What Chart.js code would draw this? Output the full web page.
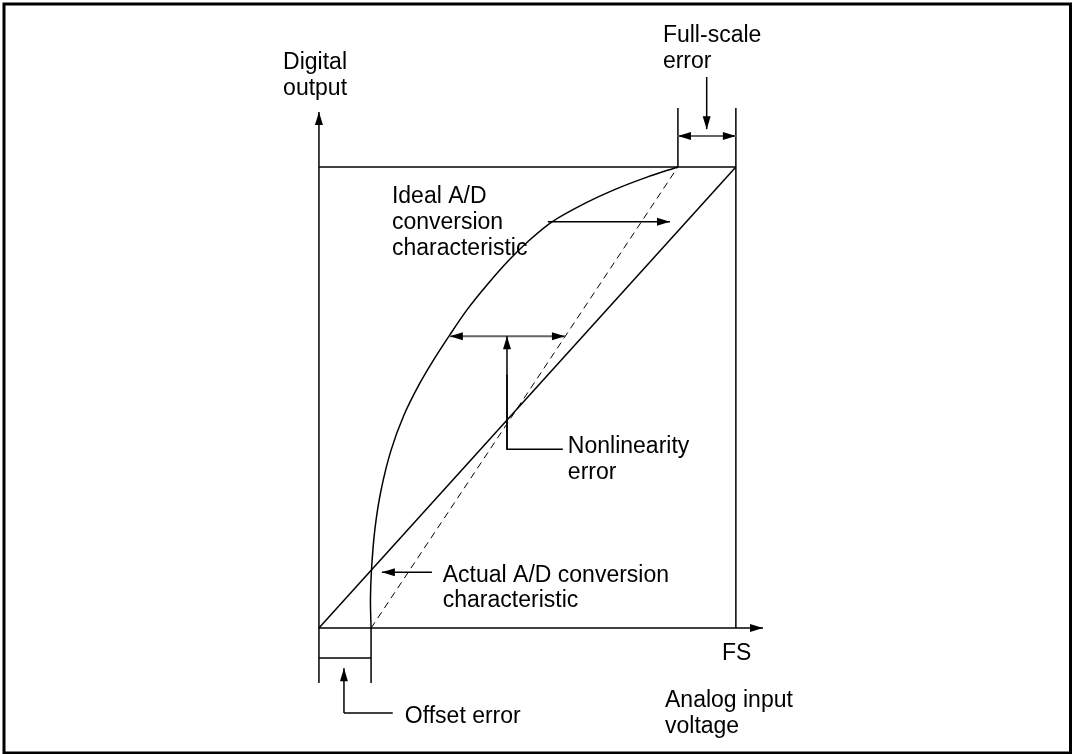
<!DOCTYPE html>
<html>
<head>
<meta charset="utf-8">
<title>A/D conversion errors</title>
<script src="https://cdn.jsdelivr.net/npm/chart.js@4/dist/chart.umd.min.js"></script>
<style>
  html, body { margin: 0; padding: 0; background: #fff; }
  #wrap { width: 1074px; height: 754px; }
</style>
</head>
<body>
<div id="wrap"><canvas id="canvas" width="1074" height="754"></canvas></div>
<script>
// values in % of full scale (x: analog input, y: digital output)
const offsetError = 12.5;
const fullScaleEnd = 86.1;
const nonlinearityLevel = 63.3;

const idealLine = [{x: 0, y: 0}, {x: 100, y: 100}];
const endpointLine = [{x: offsetError, y: 0}, {x: fullScaleEnd, y: 100}];

const actualX = [12.5, 12.35, 12.6, 13.4, 14.9, 17.3, 20.4, 24.2, 27.8, 31.4, 35.5, 40.3, 45.6, 50.6, 55.9, 64.0, 71.2, 78.7, 86.1];
const actualY = [0, 6.1, 12.6, 21.3, 29.9, 38.6, 46.2, 53.1, 58.6, 63.6, 69.0, 74.4, 79.8, 84.2, 88.1, 92.2, 95.2, 97.8, 100];
const actualCurve = actualX.map((x, i) => ({x, y: actualY[i]}));

const FONT = '23px "Liberation Sans", Arial, sans-serif';

function arrowHead(ctx, x1, y1, x2, y2) {
  const a = Math.atan2(y2 - y1, x2 - x1);
  const len = 13, half = 4;
  ctx.beginPath();
  ctx.moveTo(x2, y2);
  ctx.lineTo(x2 - len * Math.cos(a) + half * Math.sin(a), y2 - len * Math.sin(a) - half * Math.cos(a));
  ctx.lineTo(x2 - len * Math.cos(a) - half * Math.sin(a), y2 - len * Math.sin(a) + half * Math.cos(a));
  ctx.closePath();
  ctx.fill();
}

const diagramPlugin = {
  id: 'diagram',
  afterDatasetsDraw(chart) {
    const ctx = chart.ctx;
    const xs = chart.scales.x, ys = chart.scales.y;
    const px = v => xs.getPixelForValue(v);
    const py = v => ys.getPixelForValue(v);

    ctx.save();
    ctx.strokeStyle = '#000';
    ctx.fillStyle = '#000';
    ctx.lineWidth = 1.5;
    ctx.setLineDash([]);

    function line(pts, color, width) {
      ctx.strokeStyle = color || '#000';
      ctx.lineWidth = width || 1.5;
      ctx.beginPath();
      pts.forEach(([x, y], i) => i ? ctx.lineTo(px(x), py(y)) : ctx.moveTo(px(x), py(y)));
      ctx.stroke();
    }
    function arrow(x1, y1, x2, y2, color, width) {
      line([[x1, y1], [x2, y2]], color, width);
      ctx.fillStyle = '#000';
      arrowHead(ctx, px(x1), py(y1), px(x2), py(y2));
    }
    function dblArrow(x1, y1, x2, y2) {
      line([[x1, y1], [x2, y2]], '#666', 2);
      arrowHead(ctx, px(x2), py(y2), px(x1), py(y1));
      arrowHead(ctx, px(x1), py(y1), px(x2), py(y2));
    }

    // axes
    arrow(0, 0, 0, 111.9);
    arrow(0, 0, 106.5, 0);
    // full-scale box
    line([[0, 100], [100, 100]]);
    line([[100, 0], [100, 112.8]]);
    line([[fullScaleEnd, 100], [fullScaleEnd, 112.8]]);
    dblArrow(fullScaleEnd, 106.7, 100, 106.7);
    arrow(93.0, 119.5, 93.0, 108.2);

    // ideal pointer
    arrow(54.9, 88.1, 84.2, 88.1);
    // nonlinearity
    dblArrow(31.4, nonlinearityLevel, 59.0, nonlinearityLevel);
    line([[58.5, 38.8], [45.1, 38.8], [45.1, 55]]);
    arrow(45.1, 38.8, 45.1, nonlinearityLevel);
    // actual pointer
    arrow(27.1, 12.1, 15.1, 12.1);
    // offset bracket
    line([[0, 0], [0, -11.9]]);
    line([[offsetError, 0], [offsetError, -11.9]]);
    line([[0, -6.5], [offsetError, -6.5]]);
    line([[17.7, -18.4], [6.0, -18.4]]);
    arrow(6.0, -18.4, 6.0, -8.7);

    // texts
    ctx.font = FONT;
    ctx.fillStyle = '#000';
    ctx.textBaseline = 'alphabetic';
    ctx.textAlign = 'left';
    const texts = [
      ['Digital', -8.6, 121.3], ['output', -8.6, 115.6],
      ['Full-scale', 82.5, 127.1], ['error', 82.5, 121.5],
      ['Ideal A/D', 17.5, 92.2], ['conversion', 17.5, 86.6], ['characteristic', 17.5, 80.9],
      ['Nonlinearity', 59.7, 38.0], ['error', 59.7, 32.3],
      ['Actual A/D conversion', 29.7, 10.0], ['characteristic', 29.7, 4.6],
      ['Offset error', 20.6, -20.6],
      ['Analog input', 83.0, -17.1], ['voltage', 83.0, -22.8]
    ];
    texts.forEach(([t, x, y]) => ctx.fillText(t, px(x), py(y)));
    ctx.textAlign = 'center';
    ctx.fillText('FS', px(100.2), py(-6.9));

    // frame
    ctx.strokeStyle = '#000';
    ctx.lineWidth = 3;
    ctx.strokeRect(4, 4, chart.width - 7.5, chart.height - 5);
    ctx.restore();
  }
};

const config = {
  type: 'scatter',
  data: {
    datasets: [
      {
        label: 'Ideal',
        data: idealLine,
        showLine: true,
        borderColor: '#000',
        borderWidth: 1.5,
        pointRadius: 0,
      },
      {
        label: 'Endpoint line',
        data: endpointLine,
        showLine: true,
        borderColor: '#000',
        borderWidth: 1,
        borderDash: [7, 5],
        pointRadius: 0,
      },
      {
        label: 'Actual',
        data: actualCurve,
        showLine: true,
        borderColor: '#000',
        borderWidth: 1.5,
        tension: 0.3,
        pointRadius: 0,
      },
    ],
  },
  options: {
    responsive: false,
    animation: false,
    devicePixelRatio: 1,
    layout: {padding: 0},
    plugins: {legend: {display: false}, tooltip: {enabled: false}},
    scales: {
      x: {type: 'linear', display: false, min: -76.5, max: 181.1},
      y: {type: 'linear', display: false, min: -27.3, max: 136.2},
    },
  },
  plugins: [diagramPlugin],
};

document.addEventListener('DOMContentLoaded', () => {
  const context = document.getElementById('canvas').getContext('2d');
  new Chart(context, config);
});
</script>
</body>
</html>
